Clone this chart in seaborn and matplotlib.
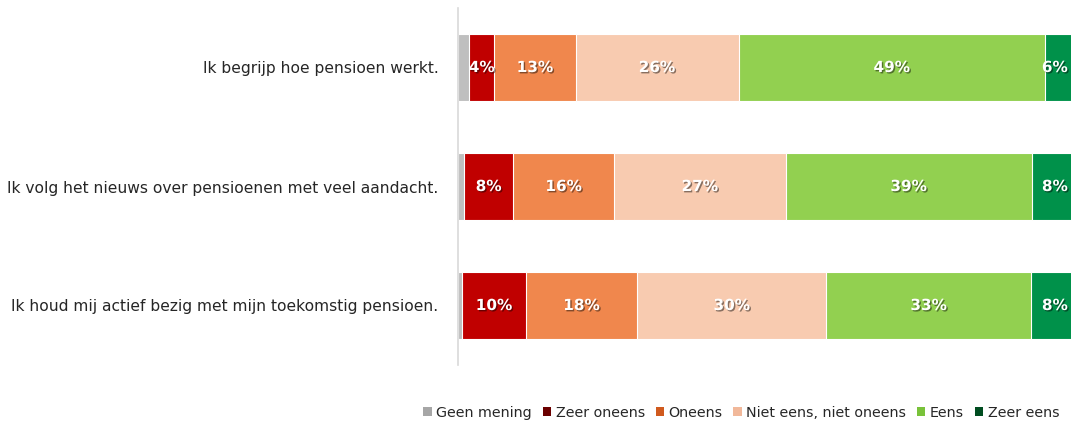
import numpy as np
import pandas as pd
import matplotlib
matplotlib.use("Agg")
import matplotlib.pyplot as plt
import matplotlib.patheffects as pe
from matplotlib.patches import Patch
import seaborn as sns

categories = [
    "Ik begrijp hoe pensioen werkt.",
    "Ik volg het nieuws over pensioenen met veel aandacht.",
    "Ik houd mij actief bezig met mijn toekomstig pensioen.",
]
series = ["Geen mening", "Zeer oneens", "Oneens", "Niet eens, niet oneens", "Eens", "Zeer eens"]
geen_mening = [1.8, 1.0, 0.7]
zeer_oneens = [4.0, 7.8, 10.1]
oneens = [13.0, 16.2, 17.9]
neutraal = [26.1, 27.4, 30.2]
eens = [49.0, 39.4, 32.8]
zeer_eens = [6.1, 8.2, 8.3]
colors = ["#bfbfbf", "#c00000", "#f0874d", "#f8cbb0", "#92d050", "#00914a"]
legend_colors = ["#a6a6a6", "#6b0000", "#d05a1e", "#f1b89a", "#79c23a", "#004d20"]

vals = np.array([geen_mening, zeer_oneens, oneens, neutraal, eens, zeer_eens])  # (6, 3)
cum = np.cumsum(vals, axis=0)

sns.set_theme(style="white")
plt.rcParams["font.family"] = ["DejaVu Sans"]

fig = plt.figure(figsize=(10.71, 4.25), dpi=100)
ax = fig.add_axes([458 / 1071, 60 / 425, (1083 - 458) / 1071, 357 / 425])

for i in reversed(range(len(series))):
    df = pd.DataFrame({"cat": categories, "val": cum[i]})
    sns.barplot(data=df, x="val", y="cat", orient="h", color=colors[i], width=0.56,
                saturation=1, edgecolor="white", linewidth=0.8, ax=ax)

for i in range(1, len(series)):
    for j in range(len(categories)):
        v = vals[i, j]
        xc = cum[i, j] - v / 2
        if i == len(series) - 1:
            xc = min(xc, 95.5)
        t = ax.text(xc, j, f"{v:.0f}%", ha="center", va="center", color="white",
                    fontsize=11, fontweight="bold")
        t.set_path_effects([pe.withSimplePatchShadow(offset=(1, -1), shadow_rgbFace="black", alpha=0.45)])

ax.set_xlim(0, 100)
ax.set_ylim(2.5, -0.5)
ax.set_xlabel("")
ax.set_ylabel("")
ax.set_xticks([])
for s in ["top", "right", "bottom"]:
    ax.spines[s].set_visible(False)
ax.spines["left"].set_color("#d9d9d9")
ax.spines["left"].set_linewidth(1.2)
ax.tick_params(axis="y", length=0, pad=14, labelsize=11.2, labelcolor="#262626")

handles = [Patch(facecolor=c, edgecolor="none") for c in legend_colors]
fig.legend(handles, series, loc="center right", bbox_to_anchor=(1072 / 1071, 1 - 413 / 425),
           ncol=6, frameon=False, fontsize=10.3, handlelength=0.6, handleheight=0.6,
           handletextpad=0.3, columnspacing=0.75, labelcolor="#262626")

fig.savefig("out.png", dpi=100)
